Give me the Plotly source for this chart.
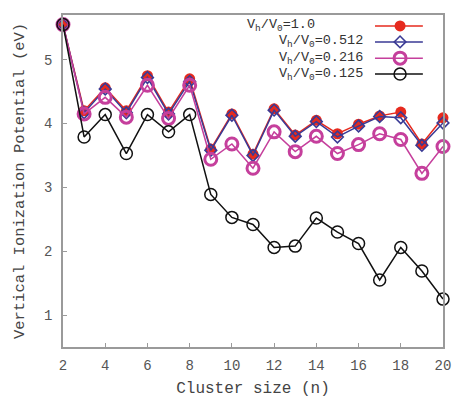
import plotly.graph_objects as go

n = list(range(2, 21))
vip_10 = [5.55, 4.20, 4.56, 4.20, 4.75, 4.18, 4.70, 3.60, 4.15, 3.52, 4.23, 3.82, 4.05, 3.84, 3.99, 4.12, 4.18, 3.68, 4.09]
vip_0512 = [5.55, 4.17, 4.54, 4.17, 4.72, 4.15, 4.66, 3.58, 4.13, 3.50, 4.21, 3.80, 4.03, 3.79, 3.96, 4.11, 4.09, 3.66, 4.01]
vip_0216 = [5.55, 4.15, 4.41, 4.10, 4.60, 4.08, 4.60, 3.44, 3.68, 3.30, 3.87, 3.56, 3.80, 3.53, 3.67, 3.84, 3.75, 3.22, 3.64]
vip_0125 = [5.55, 3.79, 4.14, 3.53, 4.14, 3.87, 4.14, 2.89, 2.53, 2.42, 2.06, 2.08, 2.52, 2.30, 2.12, 1.55, 2.06, 1.69, 1.25]

labels = ["V<sub>h</sub>/V<sub>0</sub>=1.0", "V<sub>h</sub>/V<sub>0</sub>=0.512",
          "V<sub>h</sub>/V<sub>0</sub>=0.216", "V<sub>h</sub>/V<sub>0</sub>=0.125"]

FONT = "Liberation Mono, Courier New, monospace"

styles = [
    dict(line=dict(color="#e62a1e", width=1.5),
         marker=dict(symbol="circle", size=11, color="#e62a1e", line=dict(width=0))),
    dict(line=dict(color="#3a3a95", width=1.5),
         marker=dict(symbol="diamond-open", size=9, color="#3a3a95", line=dict(width=1.6))),
    dict(line=dict(color="#c53f9c", width=1.5),
         marker=dict(symbol="circle-open", size=12, color="#c53f9c", line=dict(width=3))),
    dict(line=dict(color="#111111", width=1.5),
         marker=dict(symbol="circle-open", size=12, color="#111111", line=dict(width=1.5))),
]

fig = go.Figure()
for ys, st in zip([vip_10, vip_0512, vip_0216, vip_0125], styles):
    fig.add_trace(go.Scatter(x=n, y=ys, mode="lines+markers", cliponaxis=False,
                             showlegend=False, **st))

# custom legend (text left, sample right), on a hidden overlay axis
leg_y = [0.967, 0.919, 0.870, 0.822]
for i, st in enumerate(styles):
    fig.add_trace(go.Scatter(x=[0.821, 0.947], y=[leg_y[i]] * 2, mode="lines",
                             line=st["line"], xaxis="x2", yaxis="y2", showlegend=False,
                             hoverinfo="skip"))
    fig.add_trace(go.Scatter(x=[0.887], y=[leg_y[i]], mode="markers",
                             marker=st["marker"], xaxis="x2", yaxis="y2", showlegend=False,
                             hoverinfo="skip", cliponaxis=False))
    if i == 0:
        fig.add_annotation(x=0.479, y=leg_y[i], xref="paper", yref="paper", text=labels[i],
                           showarrow=False, xanchor="left", yanchor="middle",
                           font=dict(family=FONT, size=13.5, color="#333"))
    else:
        fig.add_annotation(x=0.794, y=leg_y[i], xref="paper", yref="paper", text=labels[i],
                           showarrow=False, xanchor="right", yanchor="middle",
                           font=dict(family=FONT, size=13.5, color="#333"))

axis_common = dict(showline=True, linecolor="#9a9a9a", linewidth=1.5, mirror=True,
                   ticks="inside", ticklen=4, tickcolor="#9a9a9a", showgrid=False,
                   zeroline=False, automargin=False,
                   tickfont=dict(family=FONT, size=14, color="#555"))

fig.update_layout(
    width=455, height=398,
    margin=dict(l=63, r=12, t=15, b=51),
    paper_bgcolor="white", plot_bgcolor="white",
    xaxis=dict(range=[2, 20], tickvals=list(range(2, 21, 2)), ticklabelstandoff=4,
               title=dict(text="Cluster size (n)", standoff=16,
                          font=dict(family=FONT, size=16, color="#444")),
               **axis_common),
    yaxis=dict(range=[0.5, 5.7], tickvals=[1, 2, 3, 4, 5], ticklabelstandoff=6,
               title=dict(text="Vertical Ionization Potential (eV)", standoff=16,
                          font=dict(family=FONT, size=15.5, color="#444")),
               **axis_common),
    xaxis2=dict(domain=[0, 1], range=[0, 1], overlaying="x", visible=False),
    yaxis2=dict(domain=[0, 1], range=[0, 1], overlaying="y", visible=False),
)

fig.write_html("out.html", config={"displayModeBar": False},
               post_script="document.body.style.margin='0';document.body.style.overflow='hidden';")
